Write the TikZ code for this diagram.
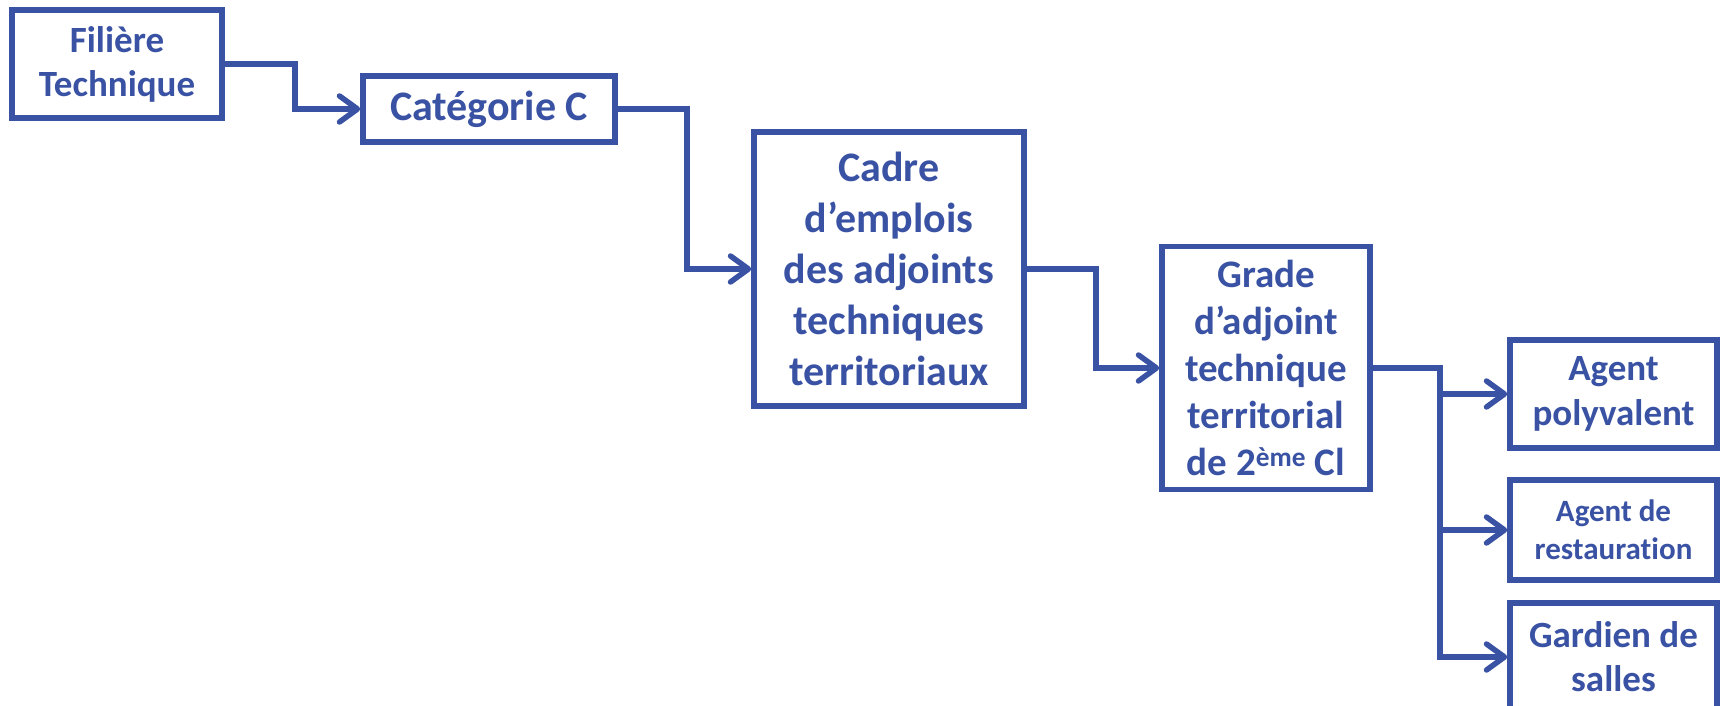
\documentclass[tikz,border=0pt]{standalone}
\usepackage{fontspec}
\setmainfont{Carlito}[Ligatures=NoCommon]
\usetikzlibrary{arrows.meta}
\definecolor{navy}{RGB}{58,82,163}
\tikzset{
  box/.style={draw=navy, line width=5.5pt, text=navy, align=center, inner sep=0pt,
    font=\bfseries, fill=white},
  conn/.style={draw=navy, line width=5.5pt, -{Straight Barb[length=18pt,width=26pt,line cap=round,line join=round]}},
}
\newcommand{\fs}[2]{\fontsize{#1pt}{#2pt}\selectfont}
\begin{document}
\begin{tikzpicture}[x=1pt,y=-1pt]
\useasboundingbox (0,0) rectangle (1725,706);
\node[box, minimum width=210pt, minimum height=108pt, font=\bfseries\fs{37}{44}] (fil) at (117,64) {Filière\\Technique};
\node[box, minimum width=252pt, minimum height=66pt, font=\bfseries\fs{42}{50}] (cat) at (489,109) {Catégorie C};
\node[box, minimum width=270pt, minimum height=274pt, font=\bfseries\fs{42}{51}] (cad) at (889,269) {Cadre\\d’emplois\\des adjoints\\techniques\\territoriaux};
\node[box, minimum width=208pt, minimum height=243pt, font=\bfseries\fs{39}{47}] (gra) at (1266,368) {Grade\\d’adjoint\\technique\\territorial\\de 2\textsuperscript{ème} Cl};
\node[box, minimum width=207pt, minimum height=108pt, font=\bfseries\fs{37}{45}] (pol) at (1613.5,394) {Agent\\polyvalent};
\node[box, minimum width=207pt, minimum height=100pt, font=\bfseries\fs{31}{38}] (res) at (1613.5,530) {Agent de\\restauration};
\node[box, minimum width=207pt, minimum height=108pt, font=\bfseries\fs{37}{44}] (gar) at (1613.5,657) {Gardien de\\salles};
\coordinate (trunk) at (1440,368);
\draw[conn] (fil.east) -- ++(70,0) |- (cat.west);
\draw[conn] (cat.east) -- ++(69,0) |- (cad.west);
\draw[conn] (cad.east) -- ++(69,0) |- (gra.west);
\draw[conn] (gra.east) -- (trunk) |- (pol.west);
\draw[conn] (trunk) |- (res.west);
\draw[conn] (trunk) |- (gar.west);
\end{tikzpicture}
\end{document}
